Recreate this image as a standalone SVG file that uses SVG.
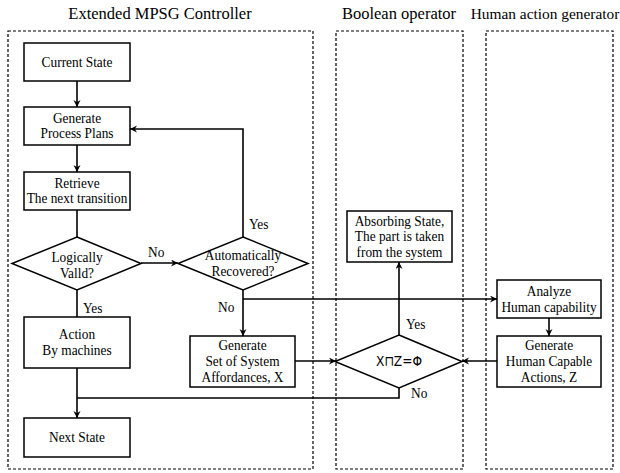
<svg xmlns="http://www.w3.org/2000/svg" width="620" height="473" viewBox="0 0 620 473">
  <style>
    .lane { fill: none; stroke: #000; stroke-width: 1.2; stroke-dasharray: 3 2; }
    .box { fill: #fff; stroke: #000; stroke-width: 1.5; }
    .title { font-family: "Liberation Serif", "Times New Roman", serif; font-size: 16.5px; text-anchor: middle; fill: #000; }
    .t { font-family: "Liberation Serif", "Times New Roman", serif; font-size: 15px; text-anchor: middle; fill: #000; }
    .lbl { font-family: "Liberation Serif", "Times New Roman", serif; font-size: 15px; fill: #000; }
    .sym { font-family: "DejaVu Sans", sans-serif; font-size: 14px; text-anchor: middle; fill: #000; }
    .wire { fill: none; stroke: #000; stroke-width: 1.6; }
  </style>
  <defs>
    <marker id="arrow" markerUnits="userSpaceOnUse" markerWidth="8" markerHeight="8" refX="7" refY="3.5" orient="auto">
      <path d="M0,0 L7,3.5 L0,7 L2.2,3.5 z" fill="#000"/>
    </marker>
  </defs>

  <rect width="620" height="473" fill="#fff"/>

  <!-- swimlanes -->
  <g id="lanes">
    <rect class="lane" x="8" y="31" width="305" height="438"/>
    <rect class="lane" x="336" y="31" width="127" height="438"/>
    <rect class="lane" x="486" y="31" width="127" height="438"/>
    <text class="title" x="160" y="18.5">Extended MPSG Controller</text>
    <text class="title" x="399" y="18.5">Boolean operator</text>
    <text class="title" x="545" y="18.5" style="font-size:15.4px">Human action generator</text>
  </g>

  <!-- connectors -->
  <g id="connectors">
    <line class="wire" x1="77" y1="81" x2="77" y2="107" marker-end="url(#arrow)"/>
    <line class="wire" x1="77" y1="145" x2="77" y2="172" marker-end="url(#arrow)"/>
    <line class="wire" x1="77" y1="210" x2="77" y2="237"/>
    <line class="wire" x1="141" y1="263" x2="178" y2="263" marker-end="url(#arrow)"/>
    <polyline class="wire" points="243,237 243,129 130,129" marker-end="url(#arrow)"/>
    <line class="wire" x1="77" y1="290" x2="77" y2="317"/>
    <line class="wire" x1="243" y1="290" x2="243" y2="336" marker-end="url(#arrow)"/>
    <line class="wire" x1="243" y1="299" x2="497" y2="299" marker-end="url(#arrow)"/>
    <line class="wire" x1="295" y1="361" x2="336" y2="361" marker-end="url(#arrow)"/>
    <line class="wire" x1="77" y1="368" x2="77" y2="418" marker-end="url(#arrow)"/>
    <polyline class="wire" points="399,388 399,398 77,398"/>
    <line class="wire" x1="399" y1="335" x2="399" y2="262" marker-end="url(#arrow)"/>
    <line class="wire" x1="549" y1="318" x2="549" y2="336" marker-end="url(#arrow)"/>
    <line class="wire" x1="497" y1="361" x2="462" y2="361" marker-end="url(#arrow)"/>
    <text class="lbl" transform="translate(148 257) scale(0.89 1)">No</text>
    <text class="lbl" transform="translate(249 229) scale(0.89 1)">Yes</text>
    <text class="lbl" transform="translate(83 313) scale(0.89 1)">Yes</text>
    <text class="lbl" transform="translate(218 312) scale(0.89 1)">No</text>
    <text class="lbl" transform="translate(406 329) scale(0.89 1)">Yes</text>
    <text class="lbl" transform="translate(411 398) scale(0.89 1)">No</text>
  </g>

  <g id="current-state">
    <rect class="box" x="24" y="43" width="106" height="38"/>
    <g transform="translate(77 0) scale(0.89 1)">
      <text class="t" x="0" y="67">Current State</text>
    </g>
  </g>

  <g id="process-plans">
    <rect class="box" x="24" y="107" width="106" height="38"/>
    <g transform="translate(77 0) scale(0.89 1)">
      <text class="t" x="0" y="123">Generate</text>
      <text class="t" x="0" y="138.5">Process Plans</text>
    </g>
  </g>

  <g id="retrieve">
    <rect class="box" x="24" y="172" width="106" height="38"/>
    <g transform="translate(77 0) scale(0.89 1)">
      <text class="t" x="0" y="188">Retrieve</text>
      <text class="t" x="0" y="203.5">The next transition</text>
    </g>
  </g>

  <g id="logically-valid">
    <polygon class="box" points="77,237 141,263.5 77,290 12,263.5"/>
    <g transform="translate(77 0) scale(0.89 1)">
      <text class="t" x="0" y="262.5">Logically</text>
      <text class="t" x="0" y="278">Valld?</text>
    </g>
  </g>

  <g id="auto-recovered">
    <polygon class="box" points="243,237 308,263.5 243,290 178,263.5"/>
    <g transform="translate(243 0) scale(0.89 1)">
      <text class="t" x="0" y="260">Automatically</text>
      <text class="t" x="0" y="276">Recovered?</text>
    </g>
  </g>

  <g id="action-machines">
    <rect class="box" x="24" y="317" width="106" height="51"/>
    <g transform="translate(77 0) scale(0.89 1)">
      <text class="t" x="0" y="339">Action</text>
      <text class="t" x="0" y="355">By machines</text>
    </g>
  </g>

  <g id="system-affordances">
    <rect class="box" x="190" y="336" width="105" height="51"/>
    <g transform="translate(242.5 0) scale(0.89 1)">
      <text class="t" x="0" y="350">Generate</text>
      <text class="t" x="0" y="366">Set of System</text>
      <text class="t" x="0" y="382">Affordances, X</text>
    </g>
  </g>

  <g id="next-state">
    <rect class="box" x="24" y="418" width="106" height="39"/>
    <g transform="translate(77 0) scale(0.89 1)">
      <text class="t" x="0" y="442">Next State</text>
    </g>
  </g>

  <g id="absorbing-state">
    <rect class="box" x="347" y="211" width="105" height="51"/>
    <g transform="translate(399.5 0) scale(0.89 1)">
      <text class="t" x="0" y="226">Absorbing State,</text>
      <text class="t" x="0" y="241.5">The part is taken</text>
      <text class="t" x="0" y="257">from the system</text>
    </g>
  </g>

  <g id="intersection-test">
    <polygon class="box" points="399,335 462,361.5 399,388 335,361.5"/>
    <text class="sym" x="399" y="366" textLength="46" lengthAdjust="spacingAndGlyphs">X⊓Z=Φ</text>
  </g>

  <g id="human-capability">
    <rect class="box" x="497" y="280" width="104" height="38"/>
    <g transform="translate(549 0) scale(0.89 1)">
      <text class="t" x="0" y="296">Analyze</text>
      <text class="t" x="0" y="312">Human capability</text>
    </g>
  </g>

  <g id="human-actions">
    <rect class="box" x="497" y="336" width="104" height="51"/>
    <g transform="translate(549 0) scale(0.89 1)">
      <text class="t" x="0" y="350">Generate</text>
      <text class="t" x="0" y="366">Human Capable</text>
      <text class="t" x="0" y="382">Actions, Z</text>
    </g>
  </g>
</svg>
